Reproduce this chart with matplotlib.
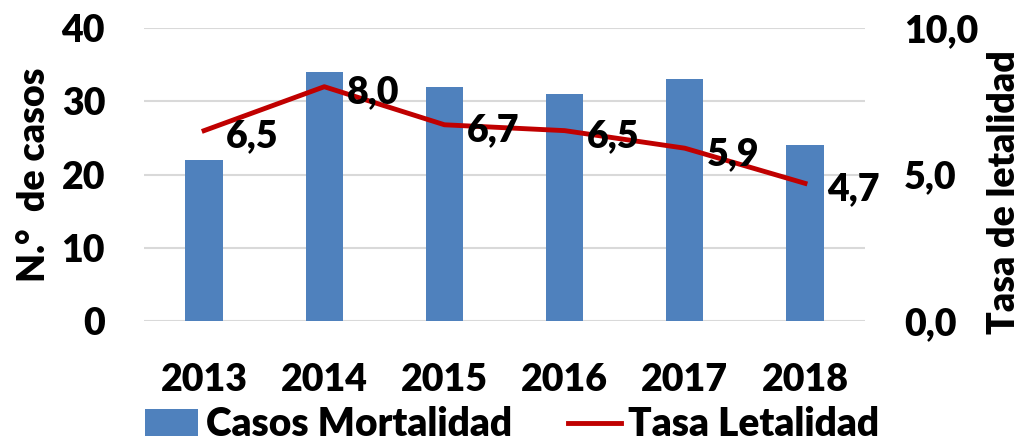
import matplotlib.pyplot as plt
import numpy as np

plt.rcParams['font.family'] = ['Lato', 'DejaVu Sans']
plt.rcParams['font.weight'] = 'heavy'

years = ['2013', '2014', '2015', '2016', '2017', '2018']
casos = [22, 34, 32, 31, 33, 24]
tasa = [6.5, 8.0, 6.7, 6.5, 5.9, 4.7]
tasa_labels = ['6,5', '8,0', '6,7', '6,5', '5,9', '4,7']

fs = 27

fig = plt.figure(figsize=(10.25, 4.47), dpi=100)
ax = fig.add_axes([0.1405, 0.282, 0.7035, 0.655])
x = np.arange(len(years))

ax.bar(x, casos, width=0.31, color='#4F81BD', label='Casos Mortalidad', zorder=2)
ax.set_ylim(0, 40)
ax.set_xlim(-0.5, len(years) - 0.5)
ax.set_yticks([0, 10, 20, 30, 40])
ax.grid(axis='y', color='#D9D9D9', linewidth=1.5, zorder=0)
ax.set_xticks(x)
ax.set_xticklabels(years)
ax.tick_params(axis='both', length=0, labelsize=fs, pad=28)
ax.tick_params(axis='x', pad=30)
for s in ax.spines.values():
    s.set_visible(False)
ax.set_ylabel('N.°  de casos', fontsize=fs, fontweight='heavy', labelpad=8)

ax2 = ax.twinx()
ax2.plot(x, tasa, color='#C00000', linewidth=3.5, label='Tasa Letalidad', zorder=3)
ax2.set_ylim(0, 10)
ax2.set_yticks([0, 5, 10])
ax2.set_yticklabels(['0,0', '5,0', '10,0'])
ax2.tick_params(axis='y', length=0, labelsize=fs, pad=28)
for s in ax2.spines.values():
    s.set_visible(False)
ax2.set_ylabel('Tasa de letalidad', fontsize=fs, fontweight='heavy', labelpad=6)
ax2.yaxis.label.set_y(0.44)

for xi, yi, lab in zip(x, tasa, tasa_labels):
    ax2.annotate(lab, (xi, yi), xytext=(16, -4), textcoords='offset points',
                 ha='left', va='center', fontsize=fs, fontweight='heavy')

h1, l1 = ax.get_legend_handles_labels()
h2, l2 = ax2.get_legend_handles_labels()
fig.legend(h1 + h2, l1 + l2, loc='lower center', ncol=2, frameon=False,
           fontsize=28, bbox_to_anchor=(0.5, -0.07), handlelength=1.35,
           handletextpad=0.2, columnspacing=1.45)

fig.savefig('out.png', dpi=100)
